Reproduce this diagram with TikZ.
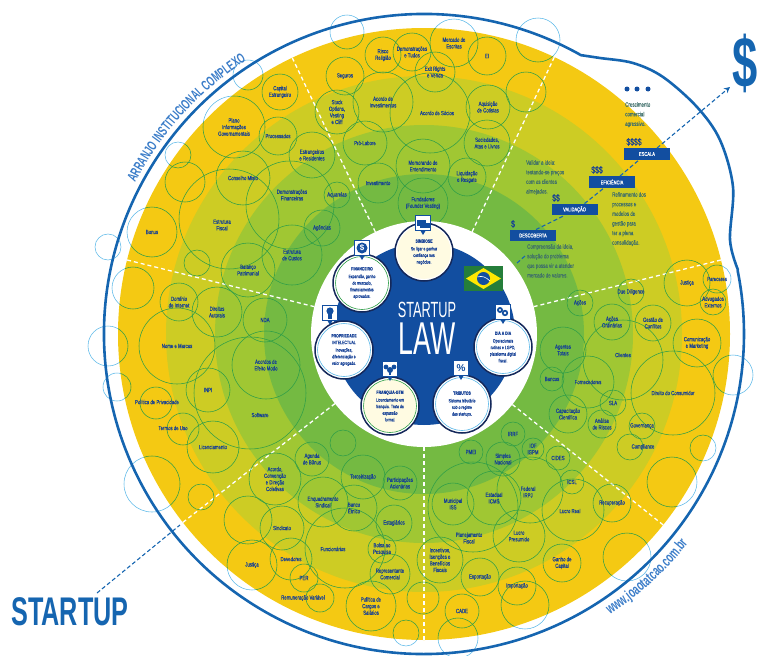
\documentclass[tikz,border=0pt]{standalone}
\usepackage{fontspec}
\usetikzlibrary{decorations.text,arrows.meta,calc}
\setmainfont{Liberation Sans}
\newfontfamily\condf[FakeStretch=.72,FakeBold=.12]{Liberation Sans}
\newfontfamily\bigc[FakeStretch=.58]{Liberation Sans}
\newfontfamily\bigb[FakeStretch=.63]{Liberation Sans Bold}
\definecolor{ringA}{HTML}{F4C913}
\definecolor{ringB}{HTML}{CDCC24}
\definecolor{ringC}{HTML}{A0C733}
\definecolor{ringD}{HTML}{74BA42}
\definecolor{bubG}{HTML}{2F9E48}
\definecolor{bubC}{HTML}{5BB8E8}
\definecolor{inkB}{HTML}{143F96}
\definecolor{lineB}{HTML}{1565B0}
\definecolor{navy}{HTML}{14285A}
\definecolor{disc}{HTML}{124EA0}
\definecolor{cream}{HTML}{FFFBE2}
\definecolor{tealT}{HTML}{3F6F6A}
\definecolor{halfB}{HTML}{3A7CC8}
\tikzset{
 bubtext/.style={text=inkB,align=center,inner sep=0pt,font=\condf\fontsize{6}{6.6}\selectfont},
 spoke/.style={white,line width=1.3pt,dash pattern=on 4pt off 3pt},
 dashB/.style={lineB,line width=1.1pt,dash pattern=on 4pt off 2.5pt},
 stagebox/.style={fill=disc,text=white,minimum width=46pt,minimum height=11.5pt,inner sep=0pt,font=\condf\fontsize{5.6}{6}\selectfont},
 stagecost/.style={text=inkB,inner sep=0pt,font=\condf\fontsize{9.5}{10}\selectfont},
 sidetext/.style={text=tealT,align=left,anchor=north west,inner sep=0pt,font=\condf\fontsize{6.2}{9.6}\selectfont},
 tagbox/.style={draw=disc,fill=white,line width=1.2pt,minimum size=15pt,inner sep=0pt,text=disc,font=\bfseries\fontsize{10}{10}\selectfont},
 innertext/.style={text=inkB,align=center,inner sep=0pt,font=\condf\fontsize{4.8}{6.6}\selectfont},
}
\newcommand\allbubs{%
\bub{b01}{347}{32}{17}{}%
\bub{b02}{248}{75}{15}{}%
\bub{b03}{280}{92}{18}{Capital\\Estrangeiro}%
\bub{b04}{345}{76}{19}{Seguros}%
\bub{b05}{234}{127}{31}{Plano\\Informações\\Governamentais}%
\bub{b06}{278}{136}{19}{Processados}%
\bub{b07}{312}{155}{23}{Estrangeiros\\e Residentes}%
\bub{b08}{178}{155}{13}{}%
\bub{b09}{185}{182}{20}{}%
\bub{b10}{243}{178}{27}{Conselho Misto}%
\bubo{b11}{229}{219}{50}{222}{225}{Estrutura\\Fiscal}%
\bub{b12}{152}{232}{25}{Bonus}%
\bubo{b13}{290}{205}{44}{292}{195}{Demonstrações\\Financeiras}%
\bub{b14}{337}{195}{13}{Aquarelas}%
\bub{b15}{322}{228}{18}{Agências}%
\bub{b16}{292}{255}{30}{Estrutura\\de Custos}%
\bub{b17}{248}{270}{27}{Balanço\\Patrimonial}%
\bub{b18}{197}{263}{13}{}%
\bub{b19}{133}{288}{21}{}%
\bub{b20}{108}{247}{13}{}%
\bub{b21}{179}{302}{19}{Domínio\\de Internet}%
\bub{b22}{217}{312}{25}{Direitos\\Autorais}%
\bub{b23}{177}{346}{38}{Nome e Marcas}%
\bub{b24}{108}{346}{20}{}%
\bub{b25}{117}{387}{14}{}%
\bub{b26}{208}{390}{22}{INPI}%
\bubo{b27}{156}{403}{16}{157}{402}{Política de Privacidade}%
\bubo{b28}{183}{429}{16}{173}{428}{Termos de Uso}%
\bub{b29}{213}{447}{26}{Licenciamento}%
\bub{b30}{265}{320}{22}{NDA}%
\bub{b31}{266}{365}{34}{Acordos de\\Efeito Modo}%
\bubo{b32}{250}{393}{56}{260}{415}{Software}%
\bub{b33}{312}{459}{17}{Agenda\\de Bônus}%
\bub{b34}{343}{443}{13}{}%
\bub{b35}{275}{479}{26}{Acordo,\\Convenção\\e Direção\\Coletivas}%
\bub{b36}{363}{477}{22}{Terceirização}%
\bub{b37}{400}{483}{17}{Participações\\Acionárias}%
\bub{b38}{323}{502}{25}{Enquadramento\\Sindical}%
\bub{b39}{354}{508}{23}{Banco\\Étnico}%
\bub{b40}{394}{523}{18}{Estagiários}%
\bub{b41}{282}{528}{22}{Sindicato}%
\bub{b42}{248}{520}{24}{}%
\bub{b43}{152}{484}{28}{}%
\bub{b44}{201}{497}{13}{}%
\bub{b45}{252}{565}{25}{Justiça}%
\bub{b46}{291}{559}{21}{Devedores}%
\bub{b47}{304}{578}{14}{PER}%
\bubo{b48}{320}{598}{14}{303}{598}{Remuneração Variável}%
\bubo{b49}{345}{548}{40}{333}{549}{Funcionários}%
\bub{b50}{382}{549}{14}{Bolsa ao\\Pesquisa}%
\bub{b51}{390}{574}{20}{Representante\\Comercial}%
\bub{b52}{371}{606}{25}{Política de\\Cargos e\\Salários}%
\bub{b53}{406}{633}{13}{}%
\bub{b54}{440}{560}{23}{Incentivos,\\Isenções e\\Benefícios\\Fiscais}%
\bub{b55}{423}{598}{16}{}%
\bub{b56}{480}{577}{19}{Exportação}%
\bub{b57}{517}{586}{19}{Importação}%
\bub{b58}{525}{605}{24}{}%
\bub{b59}{462}{611}{17}{CADE}%
\bub{b60}{458}{638}{20}{}%
\bub{b61}{562}{563}{19}{Ganho de\\Capital}%
\bub{b62}{627}{557}{24}{}%
\bub{b63}{519}{536}{26}{Lucro\\Presumido}%
\bubo{b64}{473}{507}{45}{469}{538}{Planejamento\\Fiscal}%
\bub{b65}{453}{504}{21}{Municipal\\ISS}%
\bub{b66}{494}{498}{27}{Estadual\\ICMS}%
\bubo{b67}{530}{490}{33}{528}{492}{Federal\\IRPJ}%
\bub{b68}{471}{452}{12}{PMEI}%
\bub{b69}{503}{459}{17}{Simples\\Nacional}%
\bub{b70}{533}{449}{11}{IOF\\IGPM}%
\bub{b71}{513}{434}{12}{IRRF}%
\bub{b72}{558}{458}{12}{CIDES}%
\bub{b73}{572}{482}{12}{ICSL}%
\bubo{b74}{573}{510}{31}{570}{511}{Lucro Real}%
\bub{b75}{612}{503}{19}{Recuperação}%
\bub{b76}{631}{292}{13}{Due Diligence}%
\bub{b77}{687}{283}{23}{Justiça}%
\bub{b78}{717}{279}{14}{Pareceres}%
\bub{b79}{713}{302}{13}{Advogados\\Externos}%
\bub{b80}{580}{303}{13}{Ações}%
\bub{b81}{612}{322}{18}{Ações\\Ordinárias}%
\bub{b82}{653}{323}{18}{Gestão de\\Conflitos}%
\bub{b83}{697}{343}{24}{Comunicação\\e Marketing}%
\bub{b84}{563}{350}{23}{Agentes\\Totais}%
\bub{b85}{733}{375}{20}{}%
\bub{b86}{588}{382}{26}{Fornecedores}%
\bubo{b87}{623}{360}{40}{623}{355}{Clientes}%
\bub{b88}{552}{379}{12}{Bancos}%
\bub{b89}{673}{393}{42}{Direito do Consumidor}%
\bub{b90}{613}{403}{13}{SLA}%
\bub{b91}{568}{414}{19}{Capacitação\\Científica}%
\bub{b92}{602}{424}{14}{Análise\\de Riscos}%
\bub{b93}{642}{426}{13}{Governança}%
\bubo{b94}{630}{447}{13}{643}{447}{Compliance}%
\bub{b95}{703}{448}{13}{}%
\bub{b96}{672}{482}{25}{}%
\bub{c01}{454}{43}{24}{Mercado de\\Escritas}%
\bub{c02}{487}{56}{19}{EI}%
\bub{c03}{538}{40}{22}{}%
\bub{c04}{526}{92}{20}{}%
\bub{c05}{435}{72}{20}{Exit Rights\\e Venda}%
\bub{c06}{412}{52}{19}{Demonstrações\\e Tudos}%
\bub{c07}{383}{55}{18}{Risco\\Religião}%
\bubo{c08}{430}{113}{40}{437}{113}{Acordo de Sócios}%
\bub{c09}{383}{102}{30}{Acordo de\\Investimentos}%
\bub{c10}{488}{107}{22}{Aquisição\\de Cotistas}%
\bub{c11}{487}{143}{23}{Sociedades,\\Atas e Livros}%
\bub{c12}{467}{177}{19}{Liquidação\\e Resgate}%
\bub{c13}{423}{166}{27}{Memorando de\\Entendimento}%
\bub{c14}{337}{112}{22}{Stock\\Options,\\Vesting\\e Cliff}%
\bub{c15}{365}{143}{22}{Pró-Labore}%
\bub{c16}{378}{183}{20}{Investimento}%
\bub{c17}{423}{203}{25}{Fundadores\\(Founder Vesting)}%
}
\newcommand\passcyan{%
 \def\bub##1##2##3##4##5{\draw[bubC,line width=.55pt] (##2,##3) circle (##4);}%
 \def\bubo##1##2##3##4##5##6##7{\draw[bubC,line width=.55pt] (##2,##3) circle (##4);}}
\newcommand\passgreen{%
 \def\bub##1##2##3##4##5{\draw[bubG,line width=.55pt] (##2,##3) circle (##4);}%
 \def\bubo##1##2##3##4##5##6##7{\draw[bubG,line width=.55pt] (##2,##3) circle (##4);}}
\newcommand\passtext{%
 \def\bub##1##2##3##4##5{\def\tmpt{##5}\ifx\tmpt\empty\else\node[bubtext] (##1) at (##2,##3) {##5};\fi}%
 \def\bubo##1##2##3##4##5##6##7{\node[bubtext] (##1) at (##5,##6) {##7};}}
\newcommand\innercirc[7]{%
 \fill[white] (#2,#3) circle (29);
 \draw[navy,line width=1.5pt] (#2,#3) circle (29);
 \filldraw[fill=#5,draw=#4,line width=.6pt] (#2,#3) circle (26.5);
 \node[innertext] (#1) at (#2,#3) {\bfseries #6\\[1pt]\mdseries #7};}
\begin{document}
\begin{tikzpicture}[x=1pt,y=-1pt]
\useasboundingbox (0,0) rectangle (758,656);
\coordinate (C) at (424,334);
\fill[ringA] (C) circle (306);
\fill[ringB] (C) circle (258);
\fill[ringC] (C) circle (209);
\fill[ringD] (C) circle (160);
% spokes
\foreach \a in {64.8,115.5,14,166,218,270,321.4}
  \draw[spoke] (C) ++(-\a:113) -- ++(-\a:194);
% bubbles
\begin{scope}[even odd rule]\clip (0,0) rectangle (758,656) (C) circle (306);\passcyan\allbubs\end{scope}
\begin{scope}\clip (C) circle (306);\passgreen\allbubs\end{scope}
\passtext\allbubs
% outline
\draw[lineB,line width=2.6pt,line join=round]
  (C) ++(-60.8:320) arc[start angle=-60.8,end angle=-371.5,radius=320]
  plot[smooth,tension=.55] coordinates {(738,270) (730,240) (733,187) (720,140) (697,107) (663,77) (633,63) (600,58) (580,55)};
% centre
\fill[white] (C) circle (113);
\fill[disc] (C) circle (91);
\node[text=white,inner sep=0pt,font=\bigc\fontsize{22}{22}\selectfont] (startuptxt) at (427,310) {STARTUP};
\node[text=white,inner sep=0pt,font=\bigc\fontsize{46}{46}\selectfont] (lawtxt) at (427,339) {LAW};
% flag
\fill[bubG!80!black] (464,266) rectangle (503,291);
\fill[yellow!90!orange] (483.5,268) -- (501,278.5) -- (483.5,289) -- (466,278.5) -- cycle;
\fill[disc] (483.5,278.5) circle (6.5);
\draw[white,line width=.6pt] (477.5,277) .. controls (482,275.5) and (486,277) .. (490,281);
% inner circles
\innercirc{i1}{424}{252}{cream}{cream}{SIMBIOSE}{Se ligar e ganhar\\confiança nos\\negócios.}
\innercirc{i2}{362}{283}{bubG}{white}{FINANCEIRO}{Expansão, ganho\\de mercado,\\financiamentos\\aprovados.}
\innercirc{i3}{344}{350}{bubC}{white}{PROPRIEDADE\\INTELECTUAL}{Inovações,\\diferenciação e\\valor agregado.}
\innercirc{i4}{390}{406}{bubG}{cream}{FRANQUIA-GTM}{Licenciamento em\\franquia. Trata da\\expansão\\formal.}
\innercirc{i5}{462}{404}{bubC}{white}{TRIBUTOS}{Sistema tributário\\sob o regime\\das startups.}
\innercirc{i6}{503}{347}{bubC}{white}{DIA A DIA}{Operacionais\\rotinas e LGPD,\\plataforma digital\\fiscal.}
% tags
\foreach \n/\x/\y in {t1/423/223,t2/362/248,t3/330/313,t4/390/369,t5/461/368,t6/503/312}{
  \fill[disc] (\x-3,\y+7) -- (\x+3,\y+7) -- (\x,\y+12) -- cycle;
  \node[tagbox] (\n) at (\x,\y) {};}
\fill[disc] (416.5,220) rectangle (426,225.5); \fill[disc] (420,223) rectangle (429.5,228);
\fill[disc] (362,248) circle (5.5);
\node[text=white,inner sep=0pt,font=\bfseries\fontsize{8}{8}\selectfont] (t2i) at (362,248) {\$};
\fill[disc] (330,311) circle (3.6); \fill[disc] (328.3,314) rectangle (331.7,319);
\fill[disc] (386,367) circle (2.4); \fill[disc] (394,367) circle (2.4); \fill[disc] (390,370) circle (3);\fill[disc] (389,370) rectangle (391,375);
\node[text=disc,inner sep=0pt,font=\bfseries\fontsize{10}{10}\selectfont] (t5i) at (461,368) {\%};
\fill[disc] (500,310) circle (3); \fill[disc] (505,313) circle (3.2); \fill[white] (500,310) circle (1.2);\fill[white] (505,313) circle (1.3);
% staged path
\node[stagebox] (s1) at (533,235.5) {DESCOBERTA};
\node[stagebox] (s2) at (574.5,209.5) {VALIDAÇÃO};
\node[stagebox] (s3) at (612,182) {EFICIÊNCIA};
\node[stagebox] (s4) at (647,154) {ESCALA};
\node[stagecost] (c1) at (513,224) {\$};
\node[stagecost] (c2) at (556,198) {\$\$};
\node[stagecost] (c3) at (597,170) {\$\$\$};
\node[stagecost] (c4) at (634,142) {\$\$\$\$};
\coordinate (dstart) at (517,263);
\coordinate (dstartb) at (525,256);
\coordinate (dend) at (730,87);
\draw[dashB] (dstart) -- (dstartb);
\draw[dashB] ([xshift=3pt]s1.north) -- ([xshift=-10pt]s2.south);
\draw[dashB] ([xshift=10pt]s2.north) -- ([xshift=-8pt]s3.south);
\draw[dashB] ([xshift=8pt]s3.north) -- ([xshift=-8pt]s4.south);
\draw[dashB,-{Stealth[length=6pt,width=6pt]}] ([xshift=10pt]s4.north) -- (dend);
\node[sidetext] (n1) at (526,160) {Validar a ideia:\\testando-se preços\\com os clientes\\almejados.};
\node[sidetext] (n2) at (625,102) {Crescimento\\comercial\\agressivo.};
\node[sidetext] (n3) at (612,192) {Refinamento dos\\processos e\\modelos de\\gestão para\\ter a plena\\consolidação.};
\node[sidetext] (n4) at (527,244) {Compreensão da ideia,\\solução do problema\\que possa vir a atender\\mercado de valores.};
\fill[disc] (627,89) circle (2.5); \fill[disc] (637,89) circle (2.5); \fill[disc] (648,89) circle (2.5);
% big labels
\node[text=lineB,inner sep=0pt,font=\bigb\fontsize{40}{40}\selectfont] (bigstartup) at (70,612) {STARTUP};
\node[text=lineB,inner sep=0pt,font=\bigb\fontsize{72}{72}\selectfont] (bigdollar) at (745.5,63) {\$};
\coordinate (su) at (97,593);
\coordinate (suend) at (180,525);
\draw[dashB] (su) -- (suend);
% curved labels
\path[decorate,decoration={text along path,text align=center,
  text={|\bigb\fontsize{14}{14}\selectfont\color{halfB}|ARRANJO INSTITUCIONAL COMPLEXO}}]
  (C) ++(-153.4:326) arc[start angle=-153.4,end angle=-122,radius=326];
\path[decorate,decoration={text along path,text align=center,
  text={|\bigb\fontsize{15}{15}\selectfont\color{halfB}|www.joaotatcao.com.br}}]
  (C) ++(57.3:337) arc[start angle=57.3,end angle=37.6,radius=337];
\end{tikzpicture}
\end{document}
